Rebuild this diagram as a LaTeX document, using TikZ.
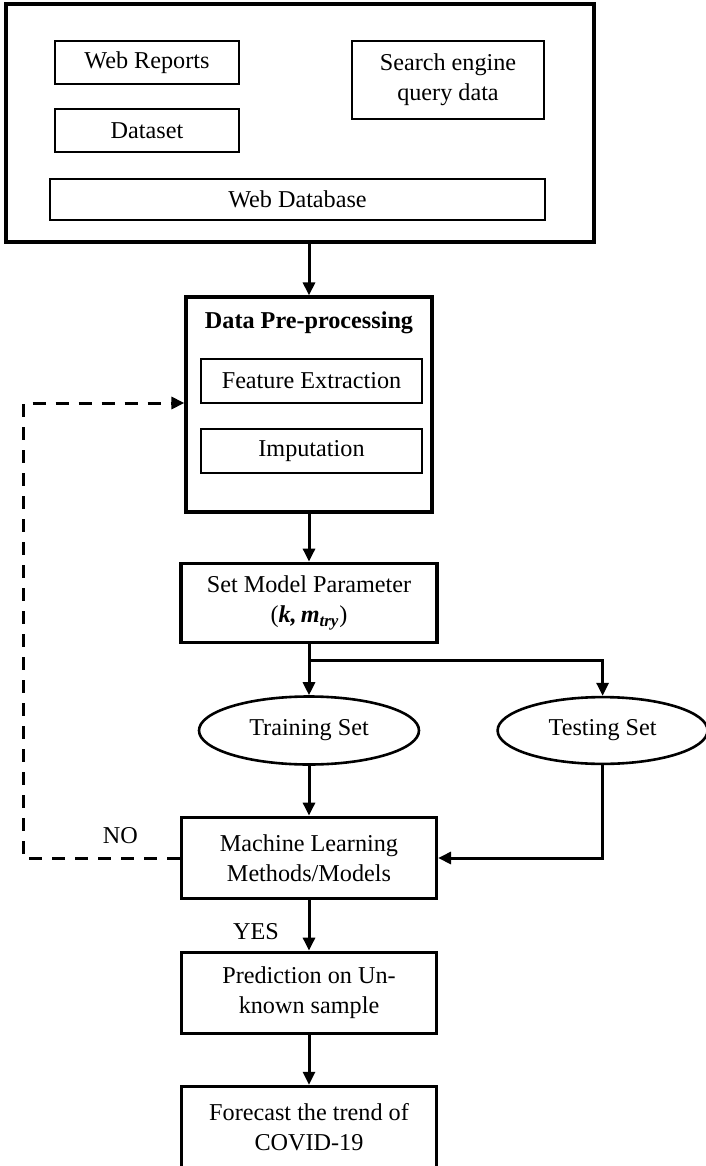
\documentclass[tikz,border=0pt]{standalone}
\usepackage{fontspec}
\setmainfont{Liberation Serif}
\usetikzlibrary{arrows.meta,positioning,shapes.geometric}
\newcommand{\diagfont}{\fontsize{12.1pt}{15pt}\selectfont}
\tikzset{>={Triangle[length=6.5pt,width=6pt]}, % filled arrow heads
every node/.style={font=\diagfont}, % Times-like text everywhere
block/.style={draw, line width=1.6pt, align=center, inner sep=2pt}, % the main steps
subblock/.style={draw, line width=0.9pt, align=center, inner sep=2pt}, % boxes inside a step
dataset/.style={draw, ellipse, line width=1.3pt, inner sep=0pt}, % training / testing sets
flow/.style={->, line width=1.5pt}, % solid connectors
feedback/.style={flow, dash pattern=on 6.5pt off 5pt}, % the NO loop
}

\begin{document}
\begin{tikzpicture}
\useasboundingbox (0,0) rectangle (353pt,-583pt);
% data sources
\node[block, minimum width=294pt, minimum height=119pt] (sources) at (150pt,-61.5pt) {};
\node[subblock, minimum width=92pt, minimum height=21.5pt] (reports) at (73.5pt,-31.25pt) {Web Reports};
\node[subblock, minimum width=92pt, minimum height=21.5pt, below=11.5pt of reports] (data) {Dataset};
\node[subblock, minimum width=96pt, minimum height=39pt] (search) at (224pt,-40pt) {Search engine\\query data};
\node[subblock, minimum width=247.5pt, minimum height=20.5pt] (webdb) at (148.75pt,-99.75pt) {Web Database};
% pre-processing
\node[block, minimum width=123pt, minimum height=107.5pt] (prep) at (154.5pt,-202.25pt) {};
\node[anchor=base, font=\diagfont\bfseries] (preptitle) at ([yshift=-16.5pt]prep.north) {Data Pre-processing};
\node[subblock, minimum width=110.5pt, minimum height=22pt] (feature) at ([xshift=1.25pt,yshift=11.75pt]prep.center) {Feature Extraction};
\node[subblock, minimum width=110.5pt, minimum height=22pt, below=12pt of feature] (imput) {Imputation};
% model
\node[block, minimum width=128pt, minimum height=39.7pt, below=24pt of prep] (setmodel) {Set Model Parameter\\({\bfseries\itshape k,\,m\textsubscript{try}})};
\node[dataset, minimum width=110pt, minimum height=34pt, below=25.5pt of setmodel] (train) {Training Set};
\node[dataset, minimum width=105pt, minimum height=33.4pt, right=38pt of train] (test) {Testing Set};
\node[block, minimum width=127.5pt, minimum height=40.8pt, below=24.9pt of train] (ml) {Machine Learning\\Methods/Models};
\node[block, minimum width=127.5pt, minimum height=40.7pt, below=25.1pt of ml] (pred) {Prediction on Un-\\known sample};
\node[block, minimum width=127.5pt, minimum height=41pt, below=24.8pt of pred] (forecast) {Forecast the trend of\\COVID-19};
\coordinate (split) at ([yshift=-8.2pt]setmodel.south);
\coordinate (back) at (11.65pt,-201.5pt);
% connectors
\draw[flow] (sources.south -| prep.north) -- (prep.north);
\draw[flow] (prep) -- (setmodel);
\draw[flow] (setmodel) -- (train);
\draw[flow] (split) -| (test.north);
\draw[flow] (train) -- (ml);
\draw[flow] (test.south) |- (ml.east);
\draw[flow] (ml) -- node[left=11pt, pos=0.63] {YES} (pred);
\draw[flow] (pred) -- (forecast);
\draw[feedback] (ml.west) -| node[above=3pt, pos=0.19] {NO} (back) -- (prep.west |- back);
\end{tikzpicture}
\end{document}
